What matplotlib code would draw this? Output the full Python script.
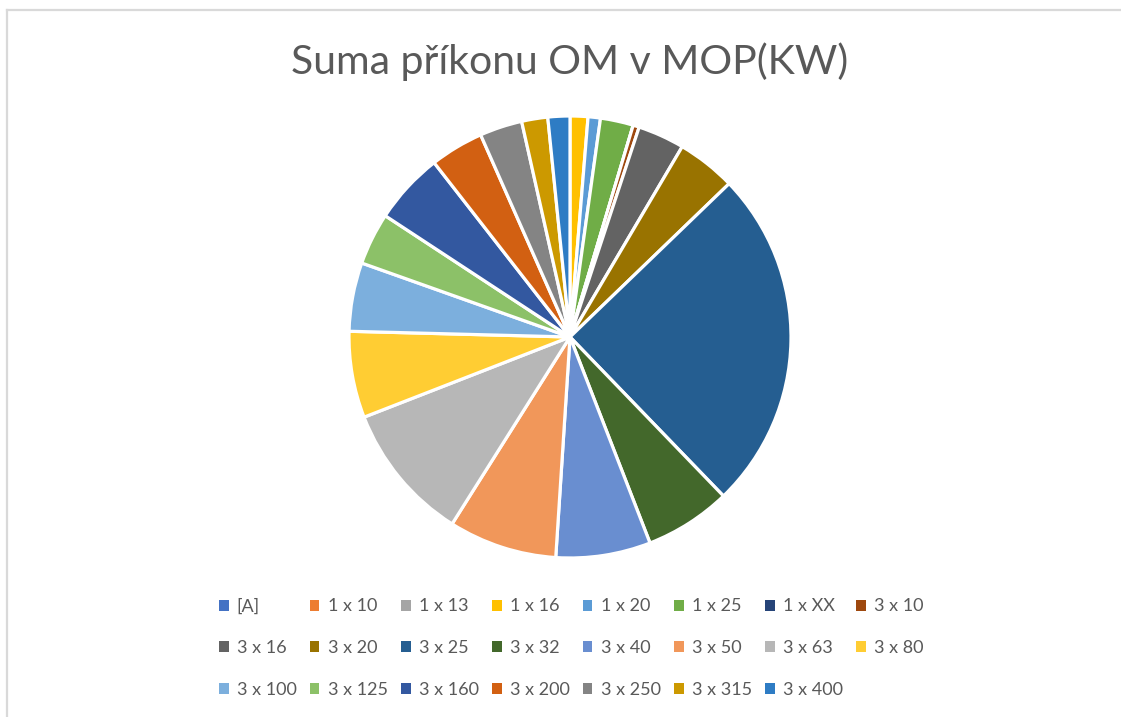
import matplotlib.pyplot as plt
from matplotlib.patches import Patch
from matplotlib.lines import Line2D

# power input share per breaker size (kW)
labels = ["[A]", "1 x 10", "1 x 13", "1 x 16", "1 x 20", "1 x 25", "1 x XX", "3 x 10",
          "3 x 16", "3 x 20", "3 x 25", "3 x 32", "3 x 40", "3 x 50", "3 x 63", "3 x 80",
          "3 x 100", "3 x 125", "3 x 160", "3 x 200", "3 x 250", "3 x 315", "3 x 400"]
values = [0, 0, 0, 1.3, 0.9, 2.4, 0, 0.45,
          3.4, 4.3, 24.9, 6.3, 6.9, 7.9, 10.1, 6.3,
          5.0, 3.8, 5.2, 3.9, 3.1, 1.9, 1.6]
colors = ["#4472C4", "#ED7D31", "#A5A5A5", "#FFC000", "#5B9BD5", "#70AD47", "#264478", "#9E480E",
          "#636363", "#997300", "#255E91", "#43682B", "#698ED0", "#F1975A", "#B7B7B7", "#FFCD33",
          "#7CAFDD", "#8CC168", "#3358A0", "#D26012", "#848484", "#CC9900", "#2E7CC4"]

plt.rcParams['font.family'] = ['Lato', 'DejaVu Sans']
W, H = 1121, 717
fig = plt.figure(figsize=(W / 100, H / 100), dpi=100)

# chart area frame (top and left edges)
fig.add_artist(Line2D([7 / W, 7 / W], [0, 1 - 10 / H], color="#D9D9D9", lw=1.6))
fig.add_artist(Line2D([7 / W, 1], [1 - 10 / H, 1 - 10 / H], color="#D9D9D9", lw=1.6))

cx, cy, r = 570, 337, 221
half = r * 1.1
ax = fig.add_axes([(cx - half) / W, (H - cy - half) / H, 2 * half / W, 2 * half / H])
ax.pie(values, colors=colors, startangle=90, counterclock=False,
       wedgeprops=dict(edgecolor="white", linewidth=2.3))
ax.set_xlim(-1.1, 1.1)
ax.set_ylim(-1.1, 1.1)
ax.set_aspect("equal")
ax.axis("off")

fig.text(cx / W, 1 - 62 / H, "Suma příkonu OM v MOP(KW)", ha="center", va="center",
         fontsize=29.5, color="#595959")

# legend laid out row by row, 8 per row
handles = [Patch(facecolor=c, edgecolor="none") for c in colors]
ncol = 8
order = []
for j in range(ncol):
    for i in range(j, len(labels), ncol):
        order.append(i)
leg = fig.legend([handles[i] for i in order], [labels[i] for i in order],
                 ncol=ncol, loc="center", bbox_to_anchor=(571 / W, 1 - 648 / H),
                 frameon=False, fontsize=13, handlelength=0.55, handleheight=0.55,
                 handletextpad=0.45, columnspacing=0.72, labelspacing=1.42)
for t in leg.get_texts():
    t.set_color("#595959")

fig.savefig("out.png", dpi=100, facecolor="white")
